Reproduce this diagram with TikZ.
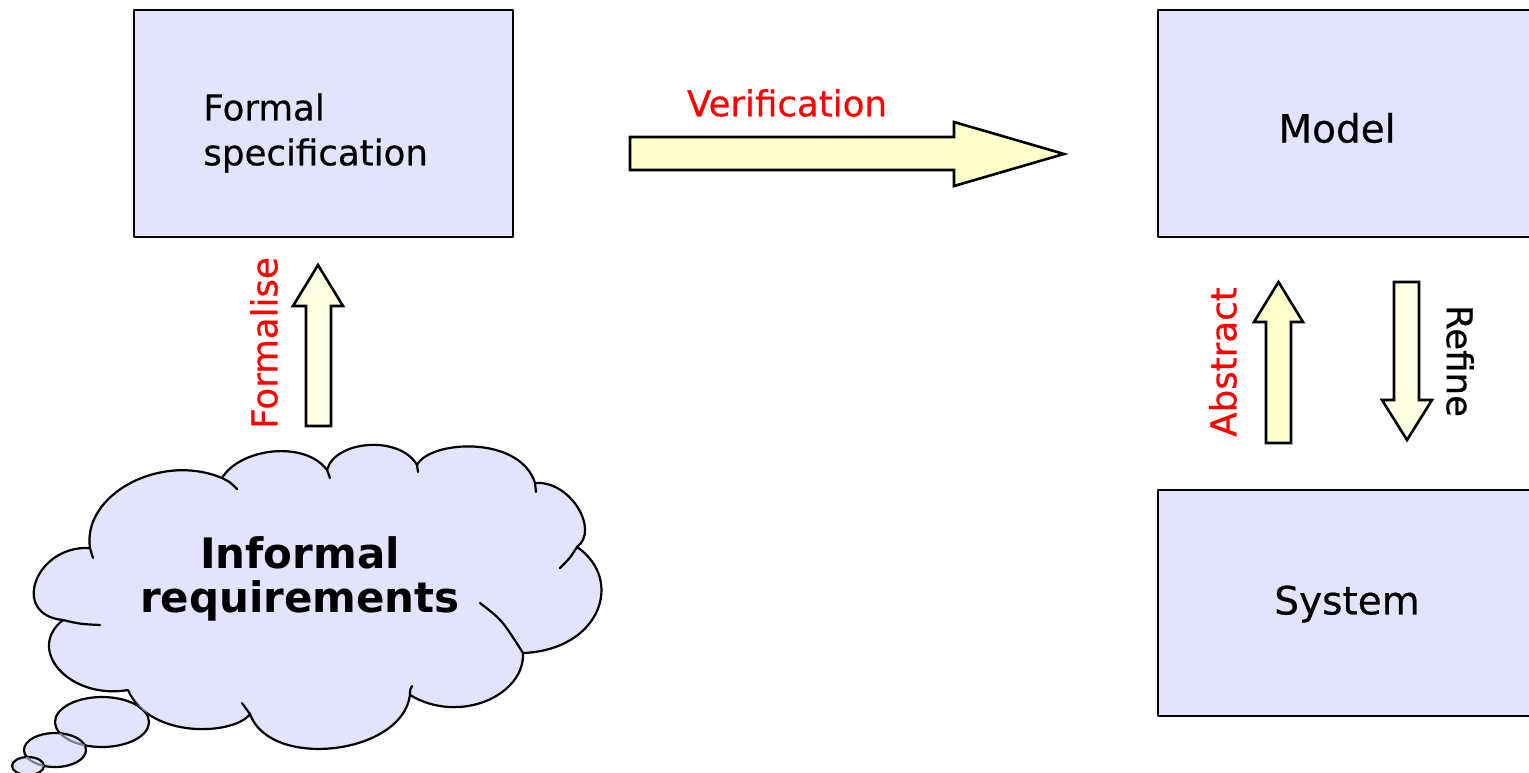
\documentclass[tikz,border=0pt]{standalone}
\usepackage{fontspec}
\setmainfont{DejaVu Sans}
\newfontfamily\labelfont{DejaVu Sans}[FakeBold=0.5]
\definecolor{boxfill}{RGB}{227,227,251}
\definecolor{arrowfill}{RGB}{255,255,204}
\definecolor{arrowpale}{RGB}{255,255,228}
\definecolor{hidden}{RGB}{125,125,150}
\begin{document}
\begin{tikzpicture}[x=0.5pt,y=-0.5pt,line join=round,line cap=round,
	box/.style={draw=black,fill=boxfill,line width=1pt},
	blockarrow/.style={draw=black,fill=arrowfill,line width=1.3pt,line join=miter},
	bubble/.style={draw=black,fill=boxfill,line width=1.1pt},
	lbl/.style={inner sep=0pt,font=\labelfont\fontsize{17.8}{22.5}\selectfont}]
	\def\cloudpath{(90,548) .. controls (82,495) and (160,452) .. (222,478)
		.. controls (240,448) and (305,440) .. (327,470)
		.. controls (335,440) and (400,435) .. (417,465)
		.. controls (430,440) and (520,435) .. (535,483)
		.. controls (570,480) and (600,530) .. (577,547)
		.. controls (625,580) and (600,650) .. (523,653)
		.. controls (525,695) and (460,725) .. (410,695)
		.. controls (402,755) and (270,770) .. (250,714)
		.. controls (235,735) and (150,740) .. (128,690)
		.. controls (70,700) and (25,650) .. (63,620)
		.. controls (10,615) and (35,545) .. (90,548) -- cycle}
	\def\bigbub{(102,722) ellipse [x radius=47,y radius=25]}
	\def\midbub{(55,750) ellipse [x radius=31,y radius=17]}
	\def\smallbub{(28,766) ellipse [x radius=16,y radius=9]}
	\useasboundingbox (0,0) rectangle (1529,772);
	% boxes
	\draw[box] (134,10) rectangle (513,237);
	\draw[box] (1158,10) rectangle (1540,237);
	\draw[box] (1158,490) rectangle (1540,716);
	\node[lbl,align=left,anchor=west] (formal) at (203,133) {Formal\\specification};
	\node[lbl,font=\labelfont\fontsize{19.5}{24}\selectfont] (model) at (1337,128) {Model};
	\node[lbl,font=\labelfont\fontsize{19.5}{24}\selectfont] (system) at (1347,604) {System};
	% block arrows
	\draw[blockarrow] (630,137)--(954,137)--(954,122)--(1064,154)--(954,186)--(954,170)--(630,170)--cycle;
	\draw[blockarrow,fill=arrowpale] (306,426)--(306,306)--(293,306)--(318,265)--(343,306)--(331,306)--(331,426)--cycle;
	\draw[blockarrow] (1266,443)--(1266,322)--(1254,322)--(1278.5,282)--(1303,322)--(1291,322)--(1291,443)--cycle;
	\draw[blockarrow,fill=arrowpale] (1394,282)--(1394,400)--(1382,400)--(1407,440)--(1432,400)--(1419,400)--(1419,282)--cycle;
	\node[lbl,text=red] (verif) at (787,103) {Verification};
	\node[lbl,text=red,rotate=90] (formalise) at (264,343) {Formalise};
	\node[lbl,text=red,rotate=90] (abstract) at (1223,362) {Abstract};
	\node[lbl,rotate=-90] (refine) at (1460,361) {Refine};
	% thought cloud
	\draw[bubble] \bigbub;
	\fill[boxfill] \cloudpath;
	\draw[line width=1.1pt] \cloudpath;
	\begin{scope}\clip \cloudpath; \draw[hidden,line width=1.1pt] \bigbub; \end{scope}
	\draw[line width=1.1pt] (90,548) .. controls (91,553) .. (93,558)
		(222,478) .. controls (230,482) .. (237,489)
		(327,470) .. controls (329,474) .. (330,478)
		(417,465) .. controls (418,469) .. (418,472)
		(535,483) .. controls (536,487) .. (536,492)
		(577,547) .. controls (570,558) .. (560,568)
		(480,603) .. controls (502,620) .. (523,653)
		(410,695) .. controls (410,690) .. (412,686)
		(250,714) .. controls (246,709) .. (242,703)
		(63,620) .. controls (80,624) .. (100,625);
	\draw[bubble] \midbub;
	\begin{scope}\clip \midbub; \draw[hidden,line width=1.1pt] \bigbub; \end{scope}
	\draw[bubble] \smallbub;
	\begin{scope}\clip \smallbub; \draw[hidden,line width=1.1pt] \midbub; \end{scope}
	\node[inner sep=0pt,align=center,font=\bfseries\fontsize{21}{22}\selectfont] (informal) at (300,579) {Informal\\requirements};
\end{tikzpicture}
\end{document}
